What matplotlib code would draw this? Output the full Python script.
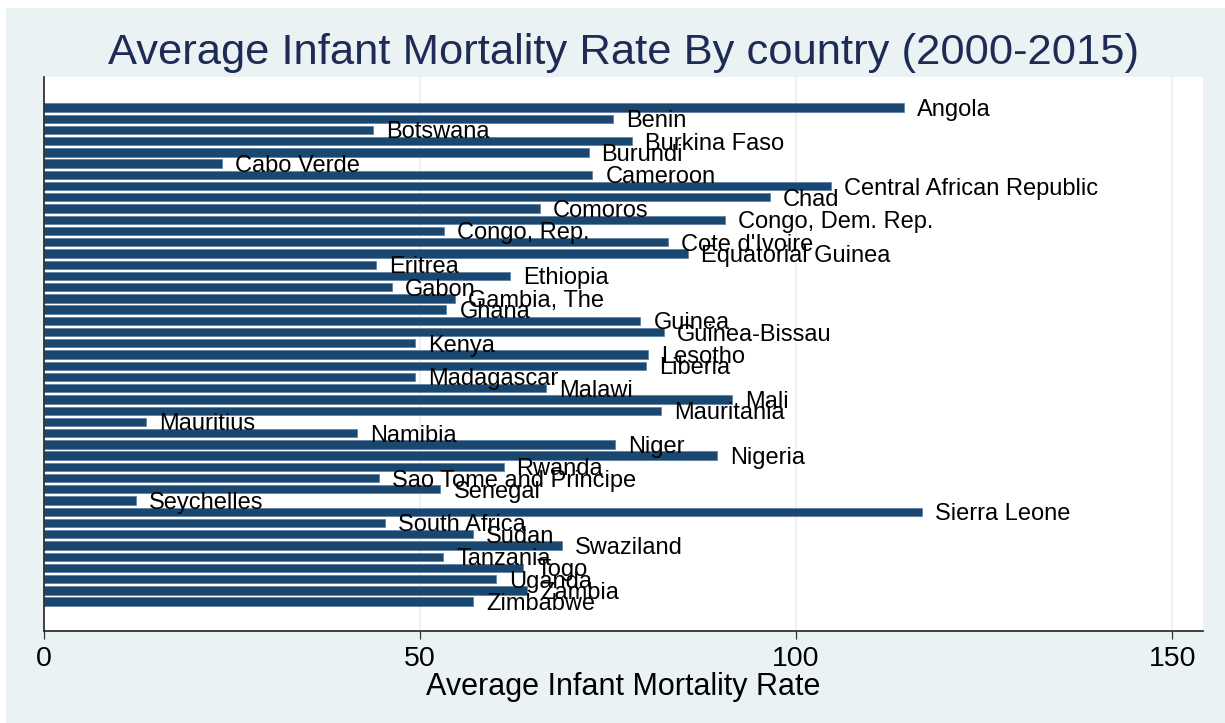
import matplotlib
matplotlib.use("Agg")
import matplotlib.pyplot as plt
from matplotlib.patches import Rectangle

countries = ["Angola", "Benin", "Botswana", "Burkina Faso", "Burundi", "Cabo Verde",
             "Cameroon", "Central African Republic", "Chad", "Comoros", "Congo, Dem. Rep.",
             "Congo, Rep.", "Cote d'Ivoire", "Equatorial Guinea", "Eritrea", "Ethiopia",
             "Gabon", "Gambia, The", "Ghana", "Guinea", "Guinea-Bissau", "Kenya", "Lesotho",
             "Liberia", "Madagascar", "Malawi", "Mali", "Mauritania", "Mauritius", "Namibia",
             "Niger", "Nigeria", "Rwanda", "Sao Tome and Principe", "Senegal", "Seychelles",
             "Sierra Leone", "South Africa", "Sudan", "Swaziland", "Tanzania", "Togo",
             "Uganda", "Zambia", "Zimbabwe"]
imr = [114.3, 75.6, 43.8, 78.2, 72.4, 23.7,
       72.9, 104.6, 96.5, 65.9, 90.6,
       53.2, 83.0, 85.6, 44.2, 62.0,
       46.3, 54.7, 53.5, 79.3, 82.4, 49.3, 80.3,
       80.0, 49.3, 66.8, 91.5, 82.0, 13.6, 41.6,
       75.9, 89.5, 61.1, 44.6, 52.7, 12.2,
       116.7, 45.3, 57.0, 68.9, 53.1, 63.7,
       60.1, 64.2, 57.0]
xticks = [0, 50, 100, 150]
title = "Average Infant Mortality Rate By country (2000-2015)"
xlabel = "Average Infant Mortality Rate"

W, H = 1225, 723
plt.rcParams['font.family'] = ['Liberation Sans', 'DejaVu Sans']
fig = plt.figure(figsize=(W / 100, H / 100), dpi=100, facecolor='white')
bg = '#eaf2f3'
fig.patches.append(Rectangle((6 / W, 0), 1 - 6 / W, 1 - 8 / H, transform=fig.transFigure,
                             facecolor=bg, edgecolor='none', zorder=-10))

left, right, top, bottom = 44 / W, 1203 / W, 1 - 77 / H, 1 - 631 / H
ax = fig.add_axes([left, bottom, right - left, top - bottom])
ax.set_zorder(1)
ax.set_facecolor('white')

pos = list(range(len(countries)))
ax.barh(pos, imr, height=0.74, color='#1a476f', edgecolor='#5f82a6', linewidth=0.6, zorder=2)

lab_fs = 17.0
for p, v, c in zip(pos, imr, countries):
    ax.annotate(c, xy=(v, p), xytext=(9.4, -0.358 * lab_fs), textcoords='offset points',
                va='baseline', ha='left', fontsize=lab_fs, color='black', zorder=3)

ax.set_xlim(0, 154.1)
ax.set_ylim(46.62, -2.716)
ax.set_xticks(xticks)
ax.set_xticklabels([str(t) for t in xticks], fontsize=20.5)
ax.set_yticks([])
ax.tick_params(axis='x', direction='out', length=6, width=0.9, color='#333333', pad=5)
for x in xticks[1:]:
    ax.axvline(x, color=bg, linewidth=1.5, zorder=1)

for s in ['top', 'right']:
    ax.spines[s].set_visible(False)
for s in ['left', 'bottom']:
    ax.spines[s].set_color('#222222')
    ax.spines[s].set_linewidth(1.2)

ax.set_xlabel(xlabel, fontsize=22, labelpad=0)
fig.text(624 / W, 1 - 64 / H, title, ha='center', va='baseline', fontsize=31.3, color='#1e2b55')

fig.savefig('out.png', dpi=100, facecolor=fig.get_facecolor())
